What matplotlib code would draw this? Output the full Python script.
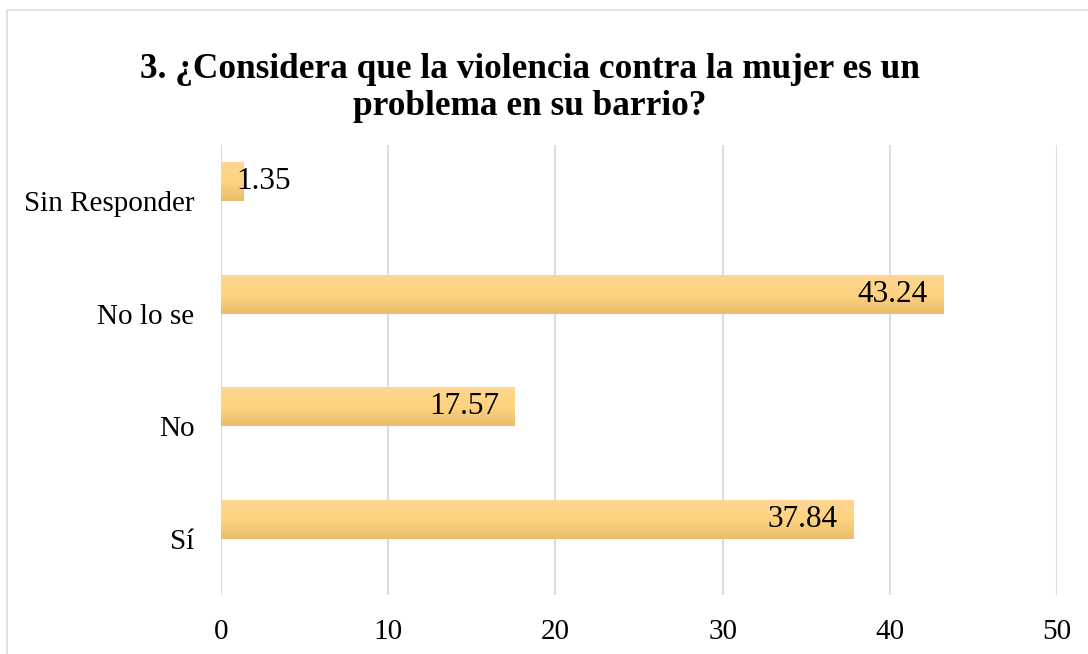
import matplotlib
matplotlib.use('Agg')
import matplotlib.pyplot as plt
import numpy as np
from matplotlib.patches import Rectangle, Circle

categorias = ['Sí', 'No', 'No lo se', 'Sin Responder']
porcentajes = [37.84, 17.57, 43.24, 1.35]
xticks = [0, 10, 20, 30, 40, 50]
titulo = '3. ¿Considera que la violencia contra la mujer es un\nproblema en su barrio?'

plt.rcParams['font.family'] = ['Liberation Serif', 'DejaVu Serif']

W, H = 1088, 654
fig = plt.figure(figsize=(W / 100, H / 100), dpi=100)
fig.patch.set_facecolor('white')

# faint watermark piece above the chart frame
fig.patches.append(Circle((958 / W, 1 + 45 / H), 60 / W, transform=fig.transFigure,
                          facecolor='#e8ebf0', edgecolor='none', zorder=0))
# chart frame
fig.patches.append(Rectangle((7 / W, -0.05), 1.1, 1 - 10 / H + 0.05, transform=fig.transFigure,
                             facecolor='white', edgecolor='#d9dde4', linewidth=1.2, zorder=1))

ax = fig.add_axes([221 / W, 1 - 595 / H, (1057 - 221) / W, (595 - 145) / H])
ax.set_facecolor('none')
ax.set_zorder(2)

ind = np.arange(len(categorias))
alto = 0.347

# vertical gradient for the bars (top light, bottom darker)
cols = np.array([[254, 214, 148], [255, 211, 127], [233, 189, 106]]) / 255.0
img = np.empty((64, 1, 3))
for c in range(3):
    img[:, 0, c] = np.interp(np.linspace(0, 2, 64), [0, 1, 2], cols[:, c])

# bars sit just above the category centre, like the Excel original
bars = ax.barh(ind, porcentajes, height=alto, align='edge', color='none',
               edgecolor='none', zorder=3)
for b in bars:
    x0, y0 = b.get_x(), b.get_y()
    w, h = b.get_width(), b.get_height()
    im = ax.imshow(img, extent=[x0, x0 + w, y0, y0 + h], origin='upper', aspect='auto',
                   zorder=3, interpolation='bilinear')
    im.set_clip_path(b)

for i, v in enumerate(porcentajes):
    etiqueta = '{:.2f}'.format(v)
    yc = i + alto / 2
    if v < 5:
        ax.annotate(etiqueta, (v, yc), xytext=(-5, 0), textcoords='offset points',
                    ha='left', va='center', fontsize=22.5, zorder=5)
    else:
        ax.annotate(etiqueta, (v, yc), xytext=(-11.5, 0), textcoords='offset points',
                    ha='right', va='center', fontsize=22.5, zorder=5)

ax.set_xlim(0, 50)
ax.set_ylim(-0.5, len(categorias) - 0.5)
ax.set_xticks(xticks)
ax.set_yticks(ind)
ax.set_yticklabels(categorias)
ax.tick_params(axis='both', length=0, labelsize=21)
ax.tick_params(axis='x', pad=17)
ax.tick_params(axis='y', pad=19)
ax.grid(axis='x', color='#d9dde4', linewidth=1.5, zorder=0)
ax.set_axisbelow(True)
for s in ax.spines.values():
    s.set_visible(False)

fig.text(530 / W, 1 - 88 / H, titulo, ha='center', va='center', fontsize=25.4,
         fontweight='bold', linespacing=1.18, zorder=5)

fig.savefig('out.png', dpi=100)
